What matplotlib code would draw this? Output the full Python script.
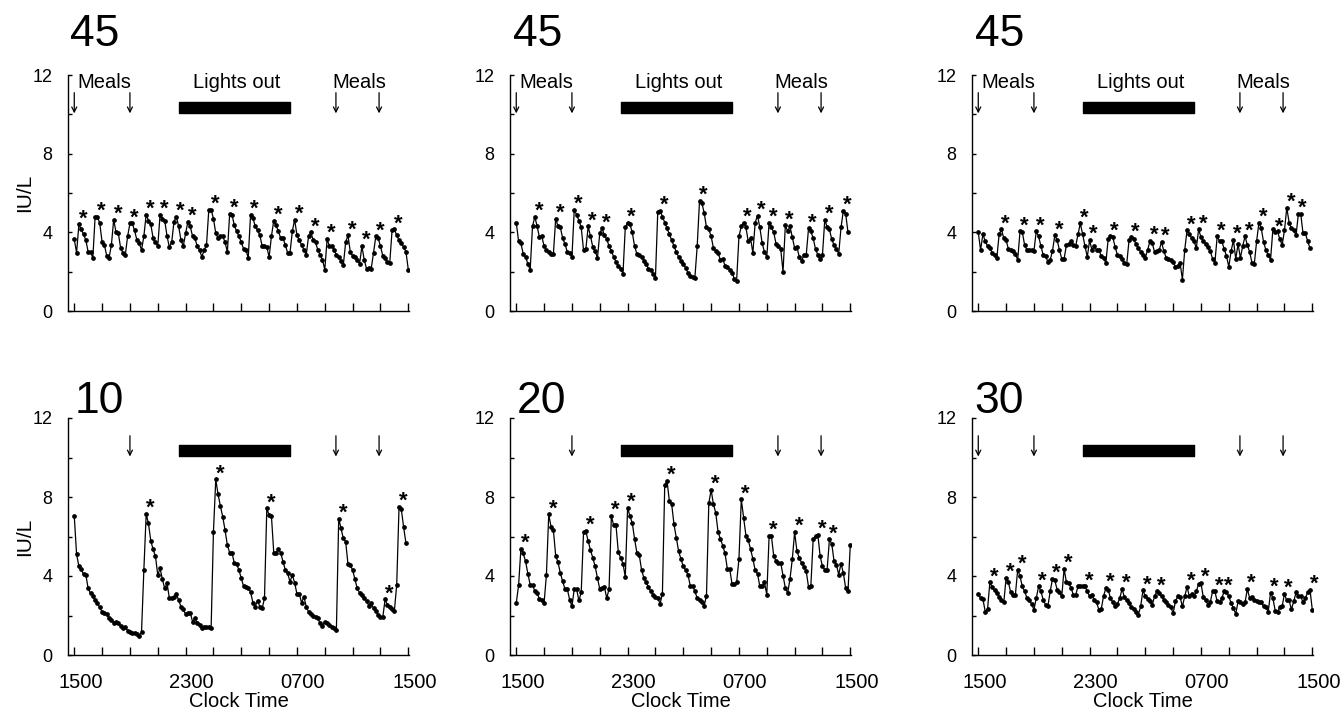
import numpy as np
import matplotlib
matplotlib.use("Agg")
import matplotlib.pyplot as plt
from matplotlib.transforms import ScaledTranslation

plt.rcParams["font.family"] = ["Liberation Sans", "DejaVu Sans"]

# LH (IU/L), one sample every 10 min from 1500 to 1500
lh_45a = [3.64, 2.97, 4.4, 4.15, 3.9, 3.6, 3.0, 3.0, 2.7, 4.8,
          4.8, 4.45, 3.5, 3.35, 2.8, 2.7, 3.35, 4.65, 4.0, 3.95,
          3.2, 2.95, 2.85, 3.8, 4.45, 4.45, 4.1, 3.6, 3.45, 3.1,
          3.8, 4.9, 4.6, 4.4, 3.7, 3.5, 3.3, 4.9, 4.7, 4.6,
          3.8, 3.25, 3.5, 4.55, 4.8, 4.3, 3.6, 3.3, 3.95, 4.55,
          4.3, 3.8, 3.7, 3.3, 3.1, 2.75, 3.1, 3.35, 5.15, 5.15,
          4.7, 3.95, 3.7, 3.8, 3.8, 3.5, 3.0, 4.95, 4.9, 4.35,
          4.05, 3.8, 3.5, 3.15, 3.1, 2.7, 4.9, 4.75, 4.3, 4.1,
          3.85, 3.3, 3.3, 3.25, 2.75, 3.8, 4.6, 4.35, 4.05, 3.7,
          3.7, 3.35, 2.95, 2.95, 4.05, 4.65, 3.85, 3.6, 3.35, 3.1,
          2.85, 3.8, 4.0, 3.6, 3.5, 3.1, 2.85, 2.6, 2.1, 3.65,
          3.3, 3.3, 3.1, 2.85, 2.75, 2.55, 2.35, 3.5, 3.85, 3.0,
          2.8, 2.75, 2.6, 2.4, 3.3, 2.6, 2.15, 2.2, 2.15, 2.95,
          3.8, 3.7, 3.3, 2.8, 2.7, 2.5, 2.45, 4.1, 4.15, 3.85,
          3.6, 3.45, 3.25, 3.0, 2.1]
lh_45b = [4.5, 3.55, 3.45, 2.9, 2.75, 2.4, 2.1, 4.3, 4.8, 4.3,
          3.75, 3.8, 3.3, 3.1, 3.0, 2.9, 2.9, 4.7, 4.3, 4.25,
          3.7, 3.4, 3.0, 2.95, 2.75, 5.15, 4.9, 4.6, 4.25, 3.1,
          3.15, 4.3, 3.8, 3.25, 3.05, 2.7, 3.95, 4.2, 3.85, 3.65,
          3.3, 3.05, 2.75, 2.5, 2.3, 2.15, 1.9, 4.25, 4.5, 4.4,
          4.0, 3.3, 2.9, 2.85, 2.75, 2.55, 2.4, 2.15, 2.1, 1.9,
          1.7, 5.05, 5.1, 4.8, 4.5, 4.2, 3.9, 3.6, 3.3, 3.0,
          2.75, 2.55, 2.4, 2.2, 1.95, 1.8, 1.75, 1.7, 3.3, 5.6,
          5.5, 5.0, 4.25, 4.15, 3.8, 3.2, 3.05, 2.95, 2.6, 2.65,
          2.3, 2.25, 2.1, 1.95, 1.65, 1.55, 3.8, 4.3, 4.5, 4.25,
          3.55, 3.7, 2.95, 4.5, 4.85, 4.25, 3.45, 3.0, 2.75, 4.5,
          4.25, 4.0, 3.4, 3.3, 3.15, 2.0, 4.35, 4.05, 4.3, 3.75,
          3.2, 3.25, 2.75, 2.55, 2.85, 2.85, 4.2, 4.05, 3.7, 3.15,
          2.85, 2.65, 2.85, 4.65, 4.25, 4.15, 3.65, 3.35, 3.15, 2.9,
          4.25, 5.1, 4.95, 4.0]
lh_45c = [4.0, 3.1, 3.9, 3.55, 3.3, 3.2, 2.95, 2.85, 2.7, 3.9,
          4.15, 3.7, 3.6, 3.15, 3.1, 3.05, 2.9, 2.6, 4.05, 4.0,
          3.35, 3.1, 3.1, 3.1, 3.05, 4.05, 3.8, 3.3, 2.85, 2.8,
          2.5, 2.6, 3.05, 3.85, 3.6, 3.1, 2.65, 2.65, 3.35, 3.4,
          3.55, 3.35, 3.3, 3.9, 4.45, 3.9, 3.3, 2.75, 3.6, 3.1,
          3.3, 3.1, 3.1, 2.8, 2.7, 2.45, 3.65, 3.8, 3.75, 3.25,
          2.85, 2.8, 2.65, 2.45, 2.4, 3.6, 3.75, 3.65, 3.4, 3.2,
          3.0, 2.85, 2.7, 3.1, 3.55, 3.45, 3.0, 3.05, 3.1, 3.5,
          3.05, 2.7, 2.65, 2.6, 2.5, 2.25, 2.3, 2.45, 1.6, 3.1,
          4.1, 3.9, 3.7, 3.55, 3.2, 4.15, 3.75, 3.55, 3.4, 3.25,
          3.05, 2.65, 2.45, 3.8, 3.55, 3.55, 3.15, 2.8, 2.25, 3.05,
          3.6, 2.65, 3.4, 2.7, 3.3, 3.8, 3.35, 3.0, 2.45, 2.4,
          3.55, 4.5, 4.2, 3.5, 3.1, 2.85, 2.6, 4.15, 4.0, 4.05,
          3.65, 3.35, 4.1, 5.25, 4.5, 4.2, 4.1, 3.85, 4.95, 4.95,
          3.95, 3.95, 3.55, 3.2]
lh_10 = [7.03, 5.1, 4.5, 4.33, 4.08, 4.05, 3.37, 3.12, 2.98, 2.78,
         2.61, 2.41, 2.19, 2.14, 2.07, 1.85, 1.77, 1.64, 1.69, 1.6,
         1.47, 1.35, 1.43, 1.23, 1.18, 1.13, 1.1, 1.06, 0.96, 1.18,
         4.3, 7.13, 6.66, 5.77, 5.35, 5.0, 4.05, 4.38, 3.83, 3.37,
         3.63, 2.87, 2.87, 2.92, 3.09, 2.78, 2.45, 2.31, 2.07, 2.11,
         2.14, 1.69, 1.85, 1.64, 1.52, 1.35, 1.43, 1.43, 1.4, 1.38,
         6.24, 8.89, 8.13, 7.54, 7.0, 6.32, 5.56, 5.18, 5.18, 4.64,
         4.6, 4.3, 3.88, 3.49, 3.42, 3.37, 3.2, 2.65, 2.45, 2.75,
         2.45, 2.36, 2.87, 7.42, 7.08, 7.03, 5.18, 5.18, 5.35, 5.18,
         4.72, 4.3, 4.13, 3.71, 4.05, 3.66, 3.09, 3.09, 2.65, 2.95,
         2.45, 2.19, 2.07, 1.97, 1.94, 1.85, 1.6, 1.47, 1.69, 1.64,
         1.52, 1.4, 1.35, 1.26, 6.91, 6.41, 5.9, 5.73, 4.6, 4.55,
         4.3, 3.83, 3.37, 3.15, 3.04, 2.87, 2.75, 2.48, 2.65, 2.36,
         2.24, 2.02, 1.91, 1.91, 2.82, 2.53, 2.45, 2.31, 2.24, 3.54,
         7.5, 7.37, 6.46, 5.65]
lh_20 = [2.63, 3.53, 5.37, 5.14, 4.75, 4.12, 3.56, 3.56, 3.22, 3.14,
         2.83, 2.76, 2.63, 4.07, 7.12, 6.49, 6.32, 5.03, 4.69, 4.15,
         3.73, 3.34, 3.34, 2.8, 2.46, 3.34, 3.34, 2.76, 3.17, 6.22,
         6.27, 5.76, 5.31, 4.92, 4.49, 3.9, 3.34, 3.39, 3.44, 2.88,
         3.34, 7.03, 6.56, 6.56, 5.2, 4.92, 4.63, 3.95, 7.46, 7.03,
         6.69, 5.88, 5.17, 5.08, 4.32, 3.9, 3.68, 3.44, 3.22, 3.05,
         2.93, 2.88, 2.59, 3.1, 8.59, 8.81, 7.8, 7.63, 6.61, 5.93,
         5.25, 4.86, 4.49, 4.29, 4.07, 3.51, 3.51, 3.22, 2.88, 2.8,
         2.66, 2.49, 3.0, 7.68, 8.36, 7.63, 7.2, 6.22, 5.88, 5.54,
         5.14, 4.36, 4.36, 3.61, 3.61, 3.68, 4.86, 7.88, 6.95, 6.05,
         5.81, 5.37, 4.86, 4.29, 4.12, 3.47, 3.51, 3.68, 3.05, 6.02,
         6.02, 5.0, 4.75, 4.66, 4.66, 4.02, 3.39, 3.14, 3.85, 4.86,
         6.22, 5.25, 4.92, 4.66, 4.46, 4.24, 3.44, 3.51, 5.88, 6.02,
         6.1, 5.0, 4.49, 4.32, 4.32, 5.85, 5.63, 4.75, 4.58, 4.07,
         4.63, 4.15, 3.39, 3.22, 5.59]
lh_30 = [3.1, 2.88, 2.83, 2.2, 2.32, 3.68, 3.44, 3.27, 3.14, 2.93,
         2.8, 2.66, 3.9, 3.68, 3.17, 3.05, 3.05, 4.32, 3.98, 3.47,
         3.22, 2.88, 2.76, 2.59, 2.29, 2.88, 3.47, 3.22, 2.8, 2.54,
         2.46, 3.22, 3.85, 3.78, 3.31, 3.17, 2.97, 4.36, 3.68, 3.64,
         3.39, 3.05, 3.05, 3.47, 3.47, 3.47, 3.47, 3.22, 2.97, 3.05,
         2.76, 2.66, 2.29, 2.32, 2.97, 3.39, 3.31, 2.88, 2.66, 2.46,
         2.59, 2.88, 3.34, 2.93, 2.76, 2.63, 2.42, 2.32, 2.2, 2.03,
         2.46, 3.27, 2.97, 2.83, 2.71, 2.54, 2.97, 3.22, 3.14, 2.97,
         2.8, 2.66, 2.54, 2.42, 2.12, 2.71, 2.97, 2.93, 2.46, 2.97,
         3.44, 2.97, 3.1, 2.97, 3.22, 3.61, 3.64, 2.93, 2.8, 2.54,
         2.66, 3.22, 3.22, 2.71, 2.66, 2.88, 3.22, 3.17, 2.97, 2.63,
         2.37, 2.08, 2.71, 2.66, 2.59, 2.66, 3.34, 2.88, 2.93, 2.8,
         2.71, 2.66, 2.66, 2.46, 2.42, 2.2, 3.14, 2.88, 2.25, 2.2,
         2.42, 2.46, 3.1, 2.76, 2.76, 2.32, 2.71, 3.17, 2.97, 2.97,
         2.66, 2.88, 3.17, 3.31, 2.29]

# sample index of each pulse marked with an asterisk
peaks_45a = [2, 10, 17, 24, 31, 37, 44, 49, 59, 67, 76, 86, 95, 102, 109, 118, 124, 130, 138]
peaks_45b = [8, 17, 25, 31, 37, 48, 62, 79, 98, 104, 109, 116, 126, 133, 141]
peaks_45c = [10, 18, 25, 33, 44, 48, 57, 66, 74, 79, 90, 95, 103, 110, 115, 121, 128, 133, 138]
peaks_10 = [31, 61, 83, 114, 134, 140]
peaks_20 = [2, 14, 30, 41, 48, 65, 84, 97, 109, 120, 130, 135]
peaks_30 = [5, 12, 17, 26, 32, 37, 46, 55, 62, 71, 77, 90, 96, 102, 106, 116, 126, 132, 143]

# hours after 1500
meals_all = [0, 4, 18.8, 21.9]
meals_no_first = [4, 18.8, 21.9]
lights_out = (7.5, 15.5)

titles = ["45", "45", "45", "10", "20", "30"]
series = [lh_45a, lh_45b, lh_45c, lh_10, lh_20, lh_30]
peaks = [peaks_45a, peaks_45b, peaks_45c, peaks_10, peaks_20, peaks_30]
meals = [meals_all, meals_all, meals_all, meals_no_first, meals_no_first, meals_all]

xtick_hours = [0, 8, 16, 24]
xtick_labels = ["1500", "2300", "0700", "1500"]

W, H = 1341, 713
fig = plt.figure(figsize=(W / 100, H / 100), dpi=100)

lefts = [68, 510, 972]
rows = [(75, 311), (418, 655)]  # top, bottom in pixels
title_x = [-0.3, -0.2, -0.2, 0.05, 0.0, -0.25]
title_y = [13.45, 13.45, 13.45, 12.25, 12.25, 12.25]
shift = ScaledTranslation(6 / 100, 0, fig.dpi_scale_trans)

for k in range(6):
    r, c = divmod(k, 3)
    top, bot = rows[r]
    ax = fig.add_axes([lefts[c] / W, (H - bot) / H, 341 / W, (bot - top) / H])

    v = np.array(series[k])
    t = np.arange(len(v)) / 6.0
    ax.plot(t, v, "-o", color="k", lw=0.9, ms=2.4)

    for i in peaks[k]:
        ax.annotate("*", (t[i], v[i]), xytext=(3, 0), textcoords="offset points",
                    ha="center", va="baseline", fontsize=16, fontweight="bold")

    for m in meals[k]:
        ax.annotate("", xy=(m, 10.05), xytext=(m, 11.1),
                    arrowprops=dict(arrowstyle="->", lw=0.9, color="k",
                                    mutation_scale=9, shrinkA=0, shrinkB=0))
    ax.broken_barh([(lights_out[0], lights_out[1] - lights_out[0])], (10.07, 0.58),
                   color="k")

    if r == 0:
        ax.text(2.15, 11.35, "Meals", ha="center", fontsize=14.5)
        ax.text(11.65, 11.35, "Lights out", ha="center", fontsize=14.5)
        ax.text(20.5, 11.35, "Meals", ha="center", fontsize=14.5)

    ax.text(title_x[k], title_y[k], titles[k], fontsize=32, ha="left",
            va="baseline", clip_on=False)

    ax.set_xlim(-0.45, 24.05)
    ax.set_ylim(0, 12)
    ax.set_xticks(xtick_hours)
    ax.set_xticks(np.arange(0, 25, 2), minor=True)
    ax.set_yticks([0, 4, 8, 12])
    ax.set_yticks([2, 6, 10], minor=True)
    ax.tick_params(axis="x", which="both", direction="in", length=5.5, width=1, pad=13,
                   labelsize=14.5)
    ax.tick_params(axis="y", which="both", direction="in", length=3, width=1, pad=11,
                   labelsize=13)
    if r == 1:
        ax.set_xticklabels(xtick_labels)
        for lab in ax.get_xticklabels():
            lab.set_transform(lab.get_transform() + shift)
        ax.set_xlabel("Clock Time", fontsize=14.5, labelpad=0)
    else:
        ax.set_xticklabels([])
    if c == 0:
        ax.set_ylabel("IU/L", fontsize=15, labelpad=-1)

    for s in ["top", "right"]:
        ax.spines[s].set_visible(False)
    for s in ["left", "bottom"]:
        ax.spines[s].set_linewidth(1)

fig.savefig("out.png", dpi=100)
